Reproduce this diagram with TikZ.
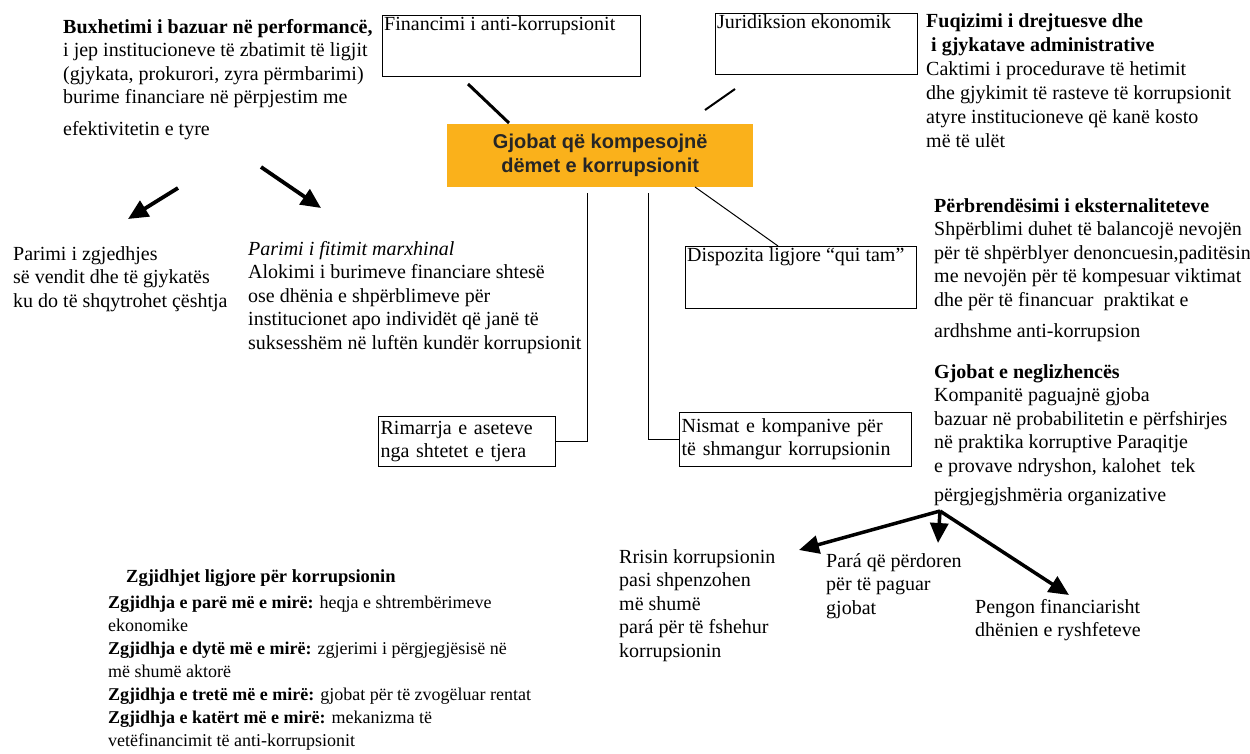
\documentclass[tikz,border=0pt]{standalone}
\usepackage{fontspec}
\setmainfont{Liberation Serif}
\newfontfamily\arialfont{Liberation Sans}
\usetikzlibrary{arrows.meta,calc}
\definecolor{gold}{HTML}{FAB11B}
\begin{document}
\begin{tikzpicture}[x=1pt,y=-1pt,
  txt/.style={anchor=north west, inner sep=0pt, align=left, font=\fontsize{20}{23.5}\selectfont},
  small/.style={anchor=north west, inner sep=0pt, align=left, font=\fontsize{18}{23}\selectfont},
  boxline/.style={draw, line width=1.3pt, anchor=north west, inner sep=0pt},
  textbox/.style={draw, line width=1.3pt, anchor=north west, inner xsep=2pt, inner ysep=2pt, align=left, font=\fontsize{20}{23}\selectfont},
  bigarrow/.style={line width=3.8pt, -{Triangle[length=20pt,width=18pt]}},
  thickline/.style={line width=3pt},
  midline/.style={line width=2pt},
  thinline/.style={line width=1pt}]
\useasboundingbox (0,0) rectangle (1250,753);

% top-left block
\node[txt] (budget) at (63,19) {\textbf{Buxhetimi i bazuar në performancë,}\\
i jep institucioneve të zbatimit të ligjit\\
(gjykata, prokurori, zyra përmbarimi)\\
burime financiare në përpjestim me\\[8pt]
efektivitetin e tyre};

% top boxes
\node[boxline, minimum width=258pt, minimum height=61pt] (finbox) at (382,15) {};
\node[txt] (fintext) at (384,16) {Financimi i anti-korrupsionit};
\node[boxline, minimum width=202pt, minimum height=61pt] (jurbox) at (715,13) {};
\node[txt] (jurtext) at (717,14) {Juridiksion ekonomik};

% top-right block
\node[txt, font=\fontsize{20}{24}\selectfont] (fuq) at (926,13) {\textbf{Fuqizimi i drejtuesve dhe}\\
\textbf{\ i gjykatave administrative}\\
Caktimi i procedurave të hetimit\\
dhe gjykimit të rasteve të korrupsionit\\
atyre institucioneve që kanë kosto\\
më të ulët};

% centre
\node[fill=gold, anchor=north west, minimum width=306pt, minimum height=63pt, inner sep=0pt] (centre) at (447,124) {};
\node[align=center, inner sep=0pt, font=\arialfont\bfseries\fontsize{20}{24}\selectfont, text=black!85] (centretext) at (centre.center) {Gjobat që kompesojnë\\dëmet e korrupsionit};

% connectors from top boxes
\coordinate (finlow) at (468,84);
\coordinate (cenA) at (509,123);
\draw[thickline] (finlow) -- (cenA);
\coordinate (jurlow) at (735,89);
\coordinate (cenB) at (705,110);
\draw[midline] (jurlow) -- (cenB);

% qui tam
\node[boxline, minimum width=231pt, minimum height=62pt] (quibox) at (685,246) {};
\node[txt] (quitext) at (687,247) {Dispozita ligjore “qui tam”};
\coordinate (cenC) at (695,187);
\draw[thinline] (cenC) -- (quibox.north -| 778,0);

% lower boxes
\node[textbox, text width=173pt, minimum height=50pt] (rim) at (378,416) {Rimarrja e aseteve\\nga shtetet e tjera};
\node[textbox, text width=228pt, minimum height=54pt] (nis) at (679,412) {Nismat e kompanive për\\të shmangur korrupsionin};
\coordinate (cenD) at (587,193);
\coordinate (cenE) at (648,193);
\draw[thinline] (cenD) |- (rim.east);
\draw[thinline] (cenE) |- (nis.west);

% left arrows
\coordinate (la1) at (178,188);
\coordinate (la2) at (128,219);
\coordinate (ra1) at (261,167);
\coordinate (ra2) at (321,208);
\draw[bigarrow] (la1) -- (la2);
\draw[bigarrow] (ra1) -- (ra2);

\node[txt] (zgj) at (13,246) {Parimi i zgjedhjes\\
së vendit dhe të gjykatës\\
ku do të shqytrohet çështja};
\node[txt] (fit) at (248,241) {\textit{Parimi i fitimit marxhinal}\\
Alokimi i burimeve financiare shtesë\\
ose dhënia e shpërblimeve për\\
institucionet apo individët që janë të\\
suksesshëm në luftën kundër korrupsionit};

% right middle
\node[txt] (ext) at (934,198) {\textbf{Përbrendësimi i eksternaliteteve}\\
Shpërblimi duhet të balancojë nevojën\\
për të shpërblyer denoncuesin,paditësin\\
me nevojën për të kompesuar viktimat\\
dhe për të financuar\ \ praktikat e\\[8pt]
ardhshme anti-korrupsion};

\node[txt] (negl) at (934,364) {\textbf{Gjobat e neglizhencës}\\
Kompanitë paguajnë gjoba\\
bazuar në probabilitetin e përfshirjes\\
në praktika korruptive Paraqitje\\
e provave ndryshon, kalohet\ \ tek\\[6pt]
përgjegjshmëria organizative};

% bottom arrows
\coordinate (junc) at (940,511);
\coordinate (tipL) at (799,550);
\coordinate (tipD) at (938,543);
\coordinate (tipR) at (1069,595);
\draw[bigarrow, line width=3.5pt] (junc) -- (tipL);
\draw[bigarrow, line width=3.5pt] (junc) -- (tipD);
\draw[bigarrow, line width=3.5pt] (junc) -- (tipR);

\node[txt] (rris) at (619,549) {Rrisin korrupsionin\\
pasi shpenzohen\\
më shumë\\
pará për të fshehur\\
korrupsionin};
\node[txt] (para) at (826,553) {Pará që përdoren\\
për të paguar\\
gjobat};
\node[txt] (peng) at (975,599) {Pengon financiarisht\\
dhënien e ryshfeteve};

% bottom-left list
\node[small, font=\bfseries\fontsize{18.5}{22.5}\selectfont] (soltitle) at (126,569) {Zgjidhjet ligjore për korrupsionin};
\node[small] (sollist) at (108,596) {\textbf{Zgjidhja e parë më e mirë:} heqja e shtrembërimeve\\
ekonomike\\
\textbf{Zgjidhja e dytë më e mirë:} zgjerimi i përgjegjësisë në\\
më shumë aktorë\\
\textbf{Zgjidhja e tretë më e mirë:} gjobat për të zvogëluar rentat\\
\textbf{Zgjidhja e katërt më e mirë:} mekanizma të\\
vetëfinancimit të anti-korrupsionit};
\end{tikzpicture}
\end{document}
